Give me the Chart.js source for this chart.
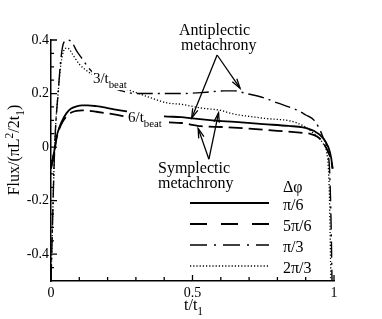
<!DOCTYPE html>
<html>
<head>
<meta charset="utf-8">
<script src="https://cdn.jsdelivr.net/npm/chart.js@4.4.1/dist/chart.umd.min.js"></script>
<style>
  html, body { margin: 0; padding: 0; background: #fff; }
  #wrap { width: 382px; height: 319px; }
</style>
</head>
<body>
<div id="wrap"><canvas id="fluxChart" width="382" height="319"></canvas></div>
<script>
// Δφ = π/6 (solid)
const tPi6 = [0, 0.007, 0.014, 0.02, 0.03, 0.04, 0.055, 0.07, 0.09, 0.11, 0.13, 0.16, 0.2, 0.25, 0.3, 0.4, 0.46, 0.5, 0.57, 0.65, 0.75, 0.84, 0.89, 0.93, 0.96, 0.98, 0.99, 0.995];
const fluxPi6 = [-0.08, -0.04, 0.0, 0.04, 0.075, 0.1, 0.127, 0.143, 0.152, 0.156, 0.156, 0.153, 0.146, 0.136, 0.128, 0.115, 0.112, 0.107, 0.1, 0.094, 0.086, 0.079, 0.074, 0.06, 0.035, 0.0, -0.04, -0.08];

// Δφ = 5π/6 (dashed)
const t5Pi6 = [0, 0.007, 0.014, 0.02, 0.03, 0.04, 0.055, 0.07, 0.09, 0.11, 0.13, 0.16, 0.2, 0.25, 0.3, 0.41, 0.46, 0.53, 0.61, 0.7, 0.8, 0.88, 0.915, 0.94, 0.96, 0.98, 0.99, 0.995];
const flux5Pi6 = [-0.08, -0.04, 0.0, 0.035, 0.07, 0.093, 0.115, 0.128, 0.135, 0.137, 0.136, 0.132, 0.126, 0.117, 0.108, 0.093, 0.09, 0.078, 0.075, 0.069, 0.061, 0.054, 0.05, 0.04, 0.02, -0.02, -0.05, -0.08];

// Δφ = π/3 (dash-dot)
const tPi3 = [0, 0.005, 0.01, 0.015, 0.025, 0.035, 0.045, 0.06, 0.075, 0.09, 0.11, 0.13, 0.16, 0.2, 0.25, 0.3, 0.4, 0.46, 0.55, 0.61, 0.65, 0.69, 0.75, 0.8, 0.84, 0.87, 0.9, 0.93, 0.96, 0.98, 0.985, 0.99, 0.993];
const fluxPi3 = [-0.5, -0.3, -0.1, 0.05, 0.2, 0.33, 0.39, 0.4, 0.39, 0.36, 0.33, 0.3, 0.265, 0.23, 0.21, 0.2, 0.2, 0.2, 0.205, 0.21, 0.21, 0.2, 0.185, 0.165, 0.15, 0.138, 0.12, 0.1, 0.04, -0.03, -0.1, -0.3, -0.5];

// Δφ = 2π/3 (dotted)
const t2Pi3 = [0, 0.005, 0.01, 0.015, 0.025, 0.035, 0.045, 0.055, 0.065, 0.08, 0.1, 0.12, 0.14, 0.2, 0.27, 0.35, 0.41, 0.46, 0.53, 0.6, 0.64, 0.75, 0.87, 0.93, 0.96, 0.977, 0.983, 0.986, 0.989];
const flux2Pi3 = [-0.5, -0.3, -0.1, 0.05, 0.2, 0.31, 0.36, 0.37, 0.365, 0.34, 0.31, 0.29, 0.275, 0.24, 0.215, 0.185, 0.165, 0.16, 0.146, 0.137, 0.125, 0.108, 0.09, 0.05, 0.015, -0.04, -0.15, -0.3, -0.5];

const legendLabels = ['π/6', '5π/6', 'π/3', '2π/3'];
const xTickVals = [0, 0.5, 1];
const xTickLabels = ['0', '0.5', '1'];
const xMinorTicks = [0.1, 0.2, 0.3, 0.4, 0.6, 0.7, 0.8, 0.9];
const yTickVals = [-0.4, -0.2, 0, 0.2, 0.4];
const yTickLabels = ['-0.4', '-0.2', '0', '0.2', '0.4'];
const yMinorTicks = [-0.45, -0.35, -0.3, -0.25, -0.15, -0.1, -0.05, 0.05, 0.1, 0.15, 0.25, 0.3, 0.35];

const SERIF = "'Liberation Serif', 'Times New Roman', serif";

function pts(ts, ys) {
    return ts.map((t, i) => ({ x: t, y: ys[i] }));
}

const series = [
    { data: pts(tPi6, fluxPi6), dash: [], width: 1.8, legendDash: [] },
    { data: pts(t5Pi6, flux5Pi6), dash: [14, 6], width: 1.8, legendDash: [17, 14] },
    { data: pts(tPi3, fluxPi3), dash: [16, 5, 2, 5], width: 1.4, legendDash: [17, 7, 2, 7] },
    { data: pts(t2Pi3, flux2Pi3), dash: [1.2, 2], width: 1.3, legendDash: [1.2, 2] },
];

// text with a subscript/superscript part
function richText(ctx, x, y, parts, size, align) {
    let w = 0;
    parts.forEach(p => {
        ctx.font = (p.s ? size * 0.72 : size) + 'px ' + SERIF;
        w += ctx.measureText(p.t).width;
    });
    let cx = align === 'center' ? x - w / 2 : x;
    parts.forEach(p => {
        ctx.font = (p.s ? size * 0.72 : size) + 'px ' + SERIF;
        const dy = p.s === 'sub' ? size * 0.3 : (p.s === 'sup' ? -size * 0.4 : 0);
        ctx.fillText(p.t, cx, y + dy);
        cx += ctx.measureText(p.t).width;
    });
    return w;
}

function arrow(ctx, x0, y0, x1, y1) {
    ctx.beginPath();
    ctx.moveTo(x0, y0);
    ctx.lineTo(x1, y1);
    ctx.stroke();
    const a = Math.atan2(y1 - y0, x1 - x0);
    const L = 10, s = 0.28;
    ctx.beginPath();
    ctx.moveTo(x1 - L * Math.cos(a - s), y1 - L * Math.sin(a - s));
    ctx.lineTo(x1, y1);
    ctx.lineTo(x1 - L * Math.cos(a + s), y1 - L * Math.sin(a + s));
    ctx.stroke();
}

const decor = {
    id: 'decor',
    afterDraw(chart) {
        const ctx = chart.ctx;
        const xs = chart.scales.x, ys = chart.scales.y;
        const X = v => xs.getPixelForValue(v), Y = v => ys.getPixelForValue(v);
        const area = chart.chartArea;
        ctx.save();
        ctx.strokeStyle = '#000';
        ctx.fillStyle = '#000';
        ctx.setLineDash([]);
        ctx.lineWidth = 1.3;

        // inward ticks
        ctx.beginPath();
        xTickVals.forEach(v => { ctx.moveTo(X(v), area.bottom); ctx.lineTo(X(v), area.bottom - 6); });
        xMinorTicks.forEach(v => { ctx.moveTo(X(v), area.bottom); ctx.lineTo(X(v), area.bottom - 4); });
        yTickVals.forEach(v => { ctx.moveTo(area.left, Y(v)); ctx.lineTo(area.left + 6, Y(v)); });
        yMinorTicks.forEach(v => { ctx.moveTo(area.left, Y(v)); ctx.lineTo(area.left + 3, Y(v)); });
        ctx.stroke();

        // curve labels with white backing
        ctx.textBaseline = 'alphabetic';
        ctx.textAlign = 'left';
        const lab = (t, y, txt) => {
            const px = X(t), py = Y(y);
            ctx.fillStyle = '#fff';
            ctx.fillRect(px - 1, py - 12, 37, 19);
            ctx.fillStyle = '#000';
            richText(ctx, px, py, [{ t: txt }, { t: 'beat', s: 'sub' }], 15);
        };
        lab(0.148, 0.239, '3/t');
        lab(0.272, 0.093, '6/t');

        // annotations
        ctx.font = '16px ' + SERIF;
        ctx.fillText('Antiplectic', 179, 35);
        ctx.fillText('metachrony', 181, 50);
        ctx.fillText('Symplectic', 158, 173);
        ctx.fillText('metachrony', 158, 188);
        ctx.lineWidth = 1.3;
        arrow(ctx, X(0.587), Y(0.344), X(0.497), Y(0.108));
        arrow(ctx, X(0.587), Y(0.344), X(0.668), Y(0.22));
        arrow(ctx, X(0.558), Y(-0.045), X(0.52), Y(0.07));
        arrow(ctx, X(0.558), Y(-0.045), X(0.592), Y(0.128));

        // legend
        ctx.fillText('Δφ', 283, 192);
        const ly = [203, 224, 245, 266];
        chart.data.datasets.forEach((ds, i) => {
            ctx.setLineDash(series[i].legendDash);
            ctx.lineWidth = ds.borderWidth;
            ctx.beginPath();
            ctx.moveTo(190, ly[i]);
            ctx.lineTo(269, ly[i]);
            ctx.stroke();
            ctx.setLineDash([]);
            ctx.fillText(legendLabels[i], 283, ly[i] + 7);
        });

        // axis titles
        richText(ctx, 184, 310, [{ t: 't/t' }, { t: '1', s: 'sub' }], 16);
        ctx.translate(19, 150);
        ctx.rotate(-Math.PI / 2);
        richText(ctx, 0, 0, [{ t: 'Flux/(πL' }, { t: '2', s: 'sup' }, { t: '/2t' }, { t: '1', s: 'sub' }, { t: ')' }], 16, 'center');
        ctx.restore();
    }
};

const fluxChart = new Chart(document.getElementById('fluxChart').getContext('2d'), {
    type: 'scatter',
    data: {
        datasets: series.map((s, i) => ({
            label: legendLabels[i],
            data: s.data,
            showLine: true,
            borderColor: '#000',
            borderWidth: s.width,
            borderDash: s.dash,
            pointRadius: 0,
            cubicInterpolationMode: 'monotone',
            clip: 3,
        })),
    },
    options: {
        responsive: false,
        animation: false,
        devicePixelRatio: 1,
        layout: { padding: { top: 40, right: 48, left: 0, bottom: 0 } },
        plugins: { legend: { display: false }, tooltip: { enabled: false } },
        scales: {
            x: {
                type: 'linear',
                min: 0,
                max: 1,
                grid: { display: false, drawTicks: false },
                border: { display: true, color: '#000', width: 1.5 },
                afterBuildTicks: scale => { scale.ticks = xTickVals.map(v => ({ value: v })); },
                afterFit: scale => { scale.height = 38; },
                ticks: {
                    color: '#000',
                    padding: 4,
                    font: { family: SERIF, size: 14 },
                    maxRotation: 0,
                    autoSkip: false,
                    callback: (v) => xTickLabels[xTickVals.indexOf(v)],
                },
            },
            y: {
                type: 'linear',
                min: -0.5,
                max: 0.4,
                grid: { display: false, drawTicks: false },
                border: { display: true, color: '#000', width: 1.5 },
                afterBuildTicks: scale => { scale.ticks = yTickVals.map(v => ({ value: v })); },
                afterFit: scale => { scale.width = 51; },
                ticks: {
                    color: '#000',
                    padding: 2,
                    font: { family: SERIF, size: 14 },
                    autoSkip: false,
                    callback: (v) => yTickLabels[yTickVals.indexOf(v)],
                },
            },
        },
    },
    plugins: [decor],
});
</script>
</body>
</html>
